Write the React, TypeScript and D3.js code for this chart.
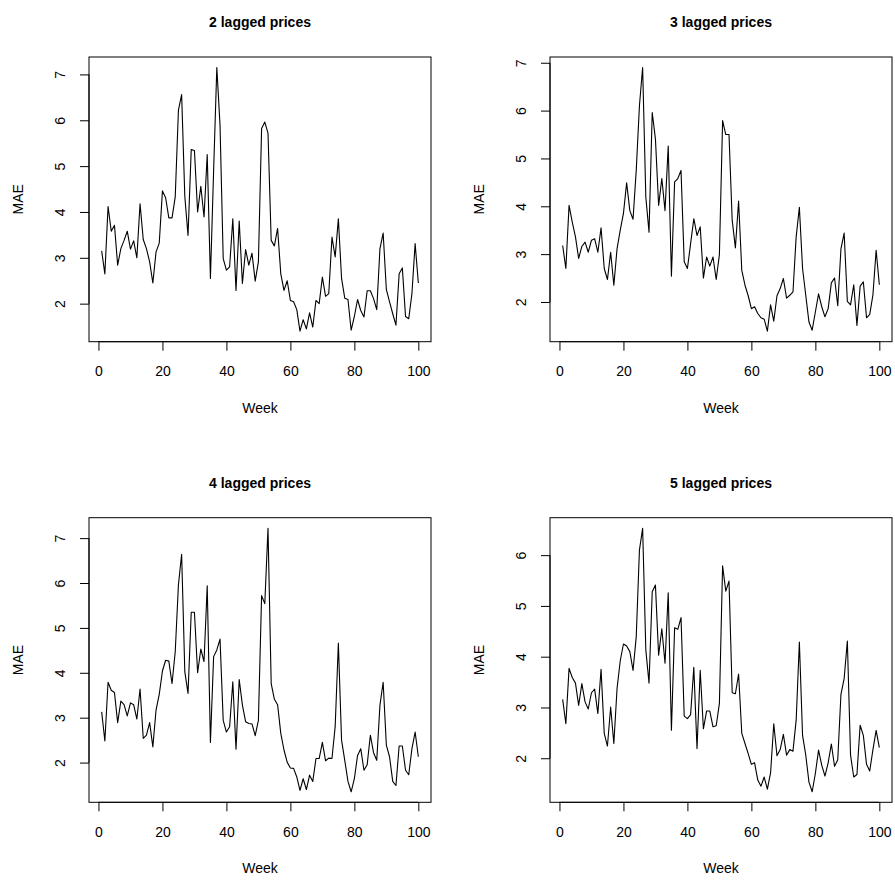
import React, { useRef, useEffect } from 'react';
import * as d3 from 'd3';

// weekly MAE for each lag setting
const weeks = d3.range(1, 101);

const lag2 = [
  3.15, 2.65, 4.12, 3.58, 3.71, 2.84, 3.2, 3.38, 3.58, 3.19,
  3.37, 3.0, 4.18, 3.4, 3.2, 2.91, 2.45, 3.13, 3.32, 4.46,
  4.31, 3.87, 3.87, 4.33, 6.22, 6.56, 4.33, 3.49, 5.36, 5.34,
  4.0, 4.56, 3.89, 5.25, 2.55, 4.9, 7.15, 5.9, 2.98, 2.73,
  2.8, 3.85, 2.29, 3.8, 2.44, 3.18, 2.84, 3.1, 2.49, 2.91,
  5.82, 5.96, 5.72, 3.38, 3.26, 3.64, 2.65, 2.29, 2.5, 2.07,
  2.04, 1.87, 1.4, 1.65, 1.45, 1.8, 1.49, 2.07, 2.0, 2.58,
  2.16, 2.22, 3.45, 3.02, 3.85, 2.55, 2.12, 2.09, 1.42, 1.72,
  2.09, 1.85, 1.71, 2.28, 2.28, 2.11, 1.87, 3.2, 3.54, 2.31,
  2.04, 1.78, 1.53, 2.65, 2.78, 1.72, 1.67, 2.22, 3.31, 2.45,
];

const lag3 = [
  3.18, 2.7, 4.02, 3.67, 3.36, 2.91, 3.16, 3.25, 3.04, 3.29,
  3.32, 3.04, 3.55, 2.7, 2.47, 3.04, 2.35, 3.11, 3.5, 3.85,
  4.49, 3.91, 3.73, 4.75, 6.1, 6.9, 4.19, 3.46, 5.96, 5.41,
  4.02, 4.58, 3.91, 5.26, 2.54, 4.51, 4.58, 4.75, 2.84, 2.7,
  3.22, 3.74, 3.39, 3.57, 2.5, 2.94, 2.75, 2.94, 2.47, 2.99,
  5.79, 5.5, 5.5, 3.71, 3.13, 4.11, 2.66, 2.35, 2.13, 1.86,
  1.9, 1.76, 1.67, 1.64, 1.39, 1.94, 1.6, 2.13, 2.28, 2.49,
  2.08, 2.14, 2.21, 3.36, 3.98, 2.7, 2.14, 1.58, 1.41, 1.79,
  2.17, 1.9, 1.69, 1.86, 2.4, 2.5, 1.92, 3.11, 3.44, 2.01,
  1.94, 2.36, 1.51, 2.33, 2.42, 1.67, 1.74, 2.15, 3.08, 2.36,
];

const lag4 = [
  3.13, 2.48, 3.79, 3.61, 3.56, 2.89, 3.37, 3.29, 3.04, 3.33,
  3.29, 2.97, 3.64, 2.54, 2.61, 2.89, 2.35, 3.17, 3.52, 4.04,
  4.28, 4.26, 3.76, 4.47, 5.96, 6.64, 4.02, 3.54, 5.35, 5.35,
  4.0, 4.53, 4.25, 5.94, 2.45, 4.36, 4.51, 4.75, 2.94, 2.68,
  2.8, 3.8, 2.3, 3.85, 3.28, 2.91, 2.87, 2.86, 2.6, 2.94,
  5.72, 5.54, 7.22, 3.76, 3.41, 3.29, 2.65, 2.28, 2.01, 1.88,
  1.87, 1.68, 1.38, 1.64, 1.4, 1.72, 1.58, 2.09, 2.09, 2.45,
  2.04, 2.1, 2.09, 2.8, 4.66, 2.5, 2.05, 1.58, 1.35, 1.64,
  2.16, 2.31, 1.83, 1.95, 2.61, 2.22, 2.05, 3.28, 3.79, 2.39,
  2.13, 1.58, 1.49, 2.37, 2.37, 1.83, 1.73, 2.31, 2.68, 2.13,
];

const lag5 = [
  3.16, 2.68, 3.77, 3.59, 3.48, 3.04, 3.47, 3.11, 2.97, 3.29,
  3.36, 2.88, 3.75, 2.49, 2.24, 3.01, 2.29, 3.37, 3.92, 4.25,
  4.21, 4.1, 3.73, 4.39, 6.1, 6.53, 4.13, 3.48, 5.28, 5.41,
  4.03, 4.55, 3.87, 5.26, 2.55, 4.57, 4.54, 4.77, 2.83, 2.78,
  2.86, 3.79, 2.19, 3.73, 2.58, 2.93, 2.93, 2.62, 2.64, 3.08,
  5.79, 5.29, 5.49, 3.29, 3.27, 3.66, 2.49, 2.29, 2.09, 1.88,
  1.91, 1.57, 1.45, 1.63, 1.39, 1.71, 2.68, 2.05, 2.17, 2.47,
  2.06, 2.17, 2.14, 2.75, 4.29, 2.45, 2.06, 1.53, 1.34, 1.7,
  2.16, 1.86, 1.65, 1.91, 2.28, 1.84, 1.97, 3.26, 3.57, 4.31,
  2.06, 1.63, 1.68, 2.65, 2.45, 1.88, 1.75, 2.17, 2.55, 2.21,
];

const titles = ['2 lagged prices', '3 lagged prices', '4 lagged prices', '5 lagged prices'];
const xTicks = [0, 20, 40, 60, 80, 100];
const yTicksA = [2, 3, 4, 5, 6, 7];
const yTicksB = [2, 3, 4, 5, 6];

const series = [lag2, lag3, lag4, lag5];
const yTicks = [yTicksA, yTicksA, yTicksA, yTicksB];

const W = 895;
const H = 881;
const FONT = '"Liberation Sans", Arial, Helvetica, sans-serif';

// plot boxes (2 x 2 grid)
const boxes = [
  { left: 89, right: 431, top: 57, bottom: 341.7 },
  { left: 550, right: 892, top: 57, bottom: 341.7 },
  { left: 89, right: 431, top: 517.7, bottom: 802.3 },
  { left: 550, right: 892, top: 517.7, bottom: 802.3 },
];

// R style axis range: data extent widened by 4% on each side
const pad = (lo: number, hi: number): [number, number] => {
  const d = (hi - lo) * 0.04;
  return [lo - d, hi + d];
};

const App = () => {
  const ref = useRef<SVGSVGElement>(null);

  useEffect(() => {
    const svg = d3.select(ref.current);
    svg.selectAll('*').remove();

    svg.append('rect').attr('width', W).attr('height', H).attr('fill', '#fff');

    series.forEach((values, k) => {
      const b = boxes[k];
      const g = svg.append('g');

      const x = d3.scaleLinear()
        .domain(pad(d3.min(weeks)!, d3.max(weeks)!))
        .range([b.left, b.right]);
      const [lo, hi] = d3.extent(values) as [number, number];
      const y = d3.scaleLinear()
        .domain(pad(lo, hi))
        .range([b.bottom, b.top]);

      // box
      g.append('rect')
        .attr('x', b.left)
        .attr('y', b.top)
        .attr('width', b.right - b.left)
        .attr('height', b.bottom - b.top)
        .attr('fill', 'none')
        .attr('stroke', '#000')
        .attr('stroke-width', 1);

      // x axis
      const xa = g.append('g')
        .attr('transform', `translate(0, ${b.bottom})`)
        .call(d3.axisBottom(x).tickValues(xTicks).tickSize(9).tickPadding(15.5).tickFormat(d3.format('d')));
      xa.select('.domain').attr('d', `M${x(xTicks[0])},0H${x(xTicks[xTicks.length - 1])}`);

      // y axis, labels turned parallel to the axis
      const yt = yTicks[k];
      const ya = g.append('g')
        .attr('transform', `translate(${b.left}, 0)`)
        .call(d3.axisLeft(y).tickValues(yt).tickSize(9).tickFormat(d3.format('d')));
      ya.select('.domain').attr('d', `M0,${y(yt[0])}V${y(yt[yt.length - 1])}`);
      ya.selectAll('.tick text')
        .attr('transform', 'rotate(-90)')
        .attr('x', 0)
        .attr('y', -24)
        .attr('dy', 0)
        .attr('text-anchor', 'middle');

      [xa, ya].forEach(a => {
        a.attr('font-size', 14).attr('font-family', FONT);
        a.selectAll('.tick text').attr('fill', '#000');
        a.selectAll('.tick line').attr('stroke', '#000');
        a.select('.domain').attr('stroke', '#000');
      });

      // the series line
      const line = d3.line<number>()
        .x((d, i) => x(weeks[i]))
        .y(d => y(d));
      g.append('path')
        .datum(values)
        .attr('fill', 'none')
        .attr('stroke', '#000')
        .attr('stroke-width', 1.1)
        .attr('stroke-linejoin', 'round')
        .attr('d', line);

      const cx = (b.left + b.right) / 2;
      const cy = (b.top + b.bottom) / 2;

      g.append('text')
        .attr('x', cx)
        .attr('y', b.top - 30)
        .attr('text-anchor', 'middle')
        .attr('font-family', FONT)
        .attr('font-size', 14)
        .attr('font-weight', 'bold')
        .text(titles[k]);

      g.append('text')
        .attr('x', cx)
        .attr('y', b.bottom + 71)
        .attr('text-anchor', 'middle')
        .attr('font-family', FONT)
        .attr('font-size', 14)
        .text('Week');

      g.append('text')
        .attr('transform', `translate(${b.left - 66}, ${cy}) rotate(-90)`)
        .attr('text-anchor', 'middle')
        .attr('font-family', FONT)
        .attr('font-size', 14)
        .text('MAE');
    });
  }, []);

  return (
    <svg
      ref={ref}
      width={W}
      height={H}
      style={{ position: 'absolute', left: 0, top: 0, display: 'block' }}
    />
  );
};

export default App;
